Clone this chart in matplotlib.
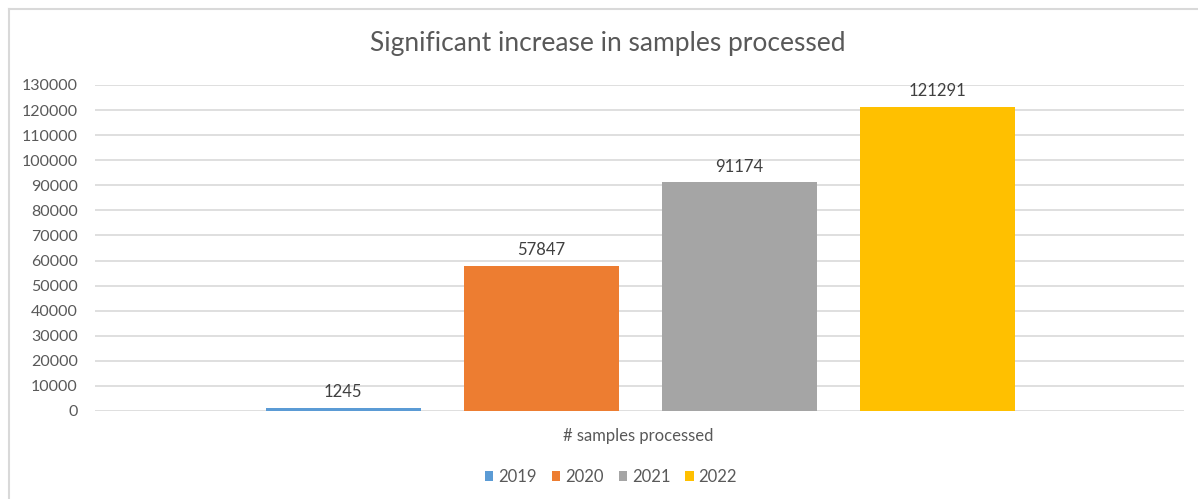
import matplotlib
matplotlib.use("Agg")
import matplotlib.pyplot as plt
from matplotlib.lines import Line2D
from matplotlib.patches import Patch

years = ["2019", "2020", "2021", "2022"]
values = [1245, 57847, 91174, 121291]
colors = ["#5B9BD5", "#ED7D31", "#A5A5A5", "#FFC000"]
yticks = list(range(0, 130001, 10000))
category = "# samples processed"
title = "Significant increase in samples processed"

plt.rcParams['font.family'] = ['Lato', 'DejaVu Sans']

W, H = 1198, 499
fig = plt.figure(figsize=(W / 100, H / 100), dpi=100)
ax = fig.add_axes([95 / W, 1 - 411 / H, (1184 - 95) / W, (411 - 85) / H])

step = 198
width = 155
offsets = [(i - 1.5) * step for i in range(len(years))]
center = 640 - 95 - (1184 - 95) / 2
for off, v, c, lab in zip(offsets, values, colors, years):
    ax.bar(center + off, v, width=width, color=c, label=lab, zorder=3)
    ax.text(center + off, v + 3000, str(v), ha="center", va="bottom",
            fontsize=12, color="#404040", zorder=4)

ax.set_xlim(-(1184 - 95) / 2, (1184 - 95) / 2)
ax.set_ylim(0, 130000)
ax.set_yticks(yticks)
ax.set_yticklabels([str(t) for t in yticks], fontsize=11.5, color="#595959")
ax.set_xticks([])
ax.tick_params(axis="y", length=0, pad=12.5)
ax.grid(axis="y", color="#D9D9D9", linewidth=1.2, zorder=0)
for s in ax.spines.values():
    s.set_visible(False)

fig.text(638 / W, 1 - 436 / H, category, ha="center", va="center",
         fontsize=12, color="#595959")
fig.text(608 / W, 1 - 44 / H, title, ha="center", va="center",
         fontsize=19, color="#595959")

handles = [Patch(facecolor=c, edgecolor="none") for c in colors]
fig.legend(handles, years, loc="center", bbox_to_anchor=(611 / W, 1 - 477 / H),
           ncol=4, frameon=False, fontsize=12, handlelength=0.5,
           handleheight=0.5, handletextpad=0.3, columnspacing=0.9,
           labelcolor="#595959")

fig.add_artist(Line2D([9 / W, 9 / W], [0, 1 - 9 / H], transform=fig.transFigure,
                      color="#D9D9D9", linewidth=1.5))
fig.add_artist(Line2D([9 / W, 1], [1 - 9 / H, 1 - 9 / H], transform=fig.transFigure,
                      color="#D9D9D9", linewidth=1.5))

fig.savefig("out.png", dpi=100, facecolor="white")
